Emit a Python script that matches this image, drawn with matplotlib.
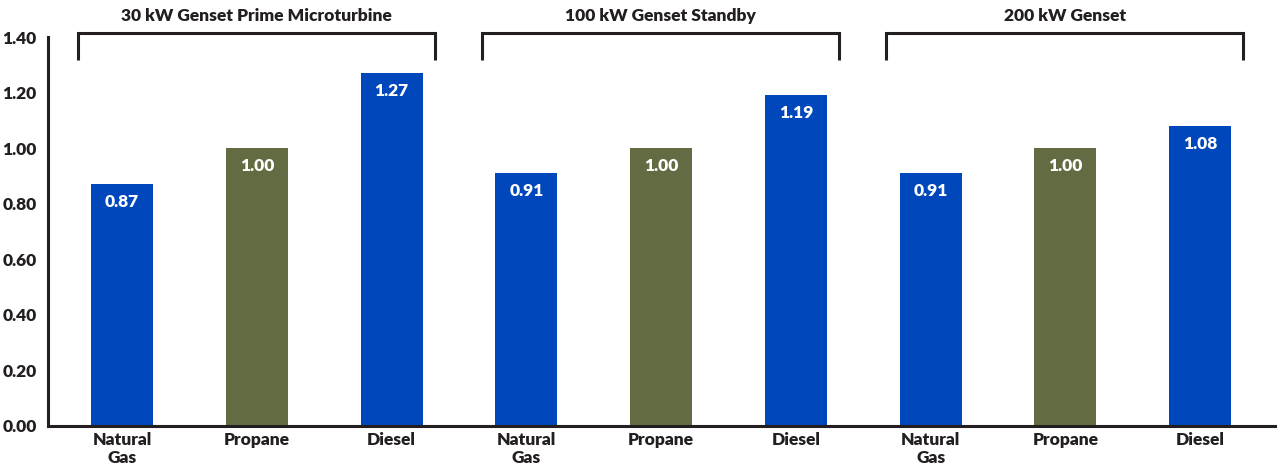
import matplotlib.pyplot as plt
import numpy as np

# data
groups = ['30 kW Genset Prime Microturbine', '100 kW Genset Standby', '200 kW Genset']
fuels = ['Natural\nGas', 'Propane', 'Diesel']
values = [0.87, 1.00, 1.27, 0.91, 1.00, 1.19, 0.91, 1.00, 1.08]
value_labels = ['0.87', '1.00', '1.27', '0.91', '1.00', '1.19', '0.91', '1.00', '1.08']
yticks = [0.0, 0.2, 0.4, 0.6, 0.8, 1.0, 1.2, 1.4]

BLUE = '#0047BB'
OLIVE = '#636B43'
DARK = '#231F20'
colors = [BLUE, OLIVE, BLUE] * 3

plt.rcParams['font.family'] = ['Lato', 'DejaVu Sans']
FS = 12.5
W = 'heavy'

fig = plt.figure(figsize=(12.77, 4.68), dpi=100)
ax = fig.add_axes([48/1277, 42/468, 1 - 48/1277, 389/468])

x = np.arange(len(values))
ax.bar(x, values, width=0.46, color=colors, zorder=2)

for xi, v, lab in zip(x, values, value_labels):
    ax.text(xi, v - 0.035, lab, ha='center', va='top', color='white',
            fontsize=FS, fontweight=W, zorder=3)

ax.set_xlim(-0.55, 8.57)
ax.set_ylim(0, 1.40)
ax.set_yticks(yticks)
ax.set_yticklabels([f'{t:.2f}' for t in yticks], fontsize=FS, fontweight=W, color=DARK)
ax.set_xticks(x)
ax.set_xticklabels(fuels * 3, fontsize=FS, fontweight=W, color=DARK, linespacing=1.2)
ax.tick_params(axis='x', length=0, pad=4)
ax.tick_params(axis='y', length=0, pad=8)

for s in ['top', 'right']:
    ax.spines[s].set_visible(False)
for s in ['left', 'bottom']:
    ax.spines[s].set_linewidth(2.2)
    ax.spines[s].set_color(DARK)

# group brackets
for g, name in enumerate(groups):
    x0 = 3 * g - 0.33
    x1 = 3 * g + 2.32
    ax.plot([x0, x0, x1, x1], [1.317, 1.414, 1.414, 1.317], color=DARK, lw=2.2,
            clip_on=False, solid_joinstyle='miter', solid_capstyle='butt')
    ax.text((x0 + x1) / 2, 1.475, name, ha='center', va='center', fontsize=FS,
            fontweight=W, color=DARK, clip_on=False)

fig.savefig('out.png', dpi=100, facecolor='white')
